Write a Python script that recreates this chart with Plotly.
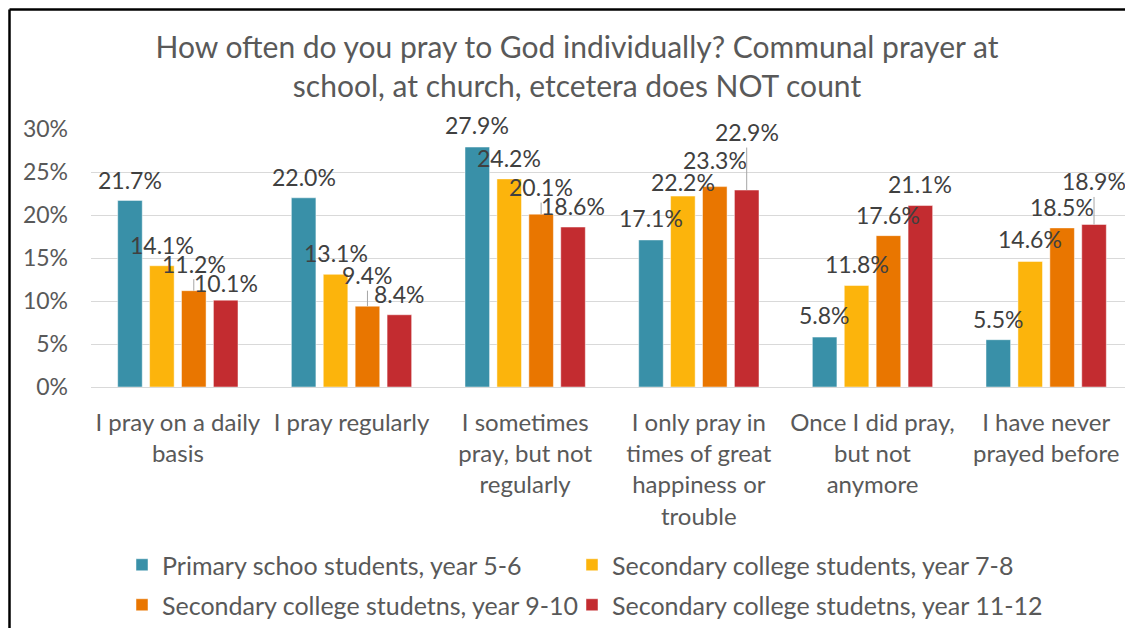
import plotly.graph_objects as go

categories = [
    "I pray on a daily basis",
    "I pray regularly",
    "I sometimes pray, but not regularly",
    "I only pray in times of great happiness or trouble",
    "Once I did pray, but not anymore",
    "I have never prayed before",
]
tick_labels = [
    "I pray on a daily<br>basis",
    "I pray regularly",
    "I sometimes<br>pray, but not<br>regularly",
    "I only pray in<br>times of great<br>happiness or<br>trouble",
    "Once I did pray,<br>but not<br>anymore",
    "I have never<br>prayed before",
]
series_names = [
    "Primary schoo students, year 5-6",
    "Secondary college students, year 7-8",
    "Secondary college studetns, year 9-10",
    "Secondary college studetns, year 11-12",
]
year_5_6 = [21.7, 22.0, 27.9, 17.1, 5.8, 5.5]
year_7_8 = [14.1, 13.1, 24.2, 22.2, 11.8, 14.6]
year_9_10 = [11.2, 9.4, 20.1, 23.3, 17.6, 18.5]
year_11_12 = [10.1, 8.4, 18.6, 22.9, 21.1, 18.9]
series_values = [year_5_6, year_7_8, year_9_10, year_11_12]
y_ticks = [0, 5, 10, 15, 20, 25, 30]
y_tick_labels = [f"{t}%" for t in y_ticks]

# styling
colors = ["#3990A8", "#FCB40C", "#E97600", "#C32C30"]
FONT = "Lato"
BARGAP = 0.265
# label offset above bar top (px) and whether a leader line is drawn
label_shift = [
    [20, 21, 22, 22, 22, 21],
    [21, 21, 21, 14, 22, 22],
    [27, 31, 27, 27, 21, 21],
    [17, 21, 21, 58, 22, 43],
]
leader = [
    [False] * 6,
    [False] * 6,
    [True, True, True, False, False, False],
    [False, False, False, True, False, True],
]
legend_ids = ["legend", "legend2", "legend3", "legend4"]
# legend entry placement in window px: (left of entry, row centre)
legend_pos = [(122, 565), (572, 565), (122, 605), (572, 605)]

# the page places the figure 8px in from the window's top-left corner
OFF = 8
W, H = 1133 - OFF, 628 - OFF
L, T = 91 - OFF, 129 - OFF
B = H - (387 - OFF)
R = 0
ph = H - T - B
pw = W - L - R


def fx(px):  # window px -> paper x
    return (px - OFF - L) / pw


def fy(py):  # window px -> paper y
    return (H - B - (py - OFF)) / ph


def cx(px):  # window px -> container x
    return (px - OFF) / W


def cy(py):  # window px -> container y
    return 1 - (py - OFF) / H


fig = go.Figure()
for name, vals, col, lg in zip(series_names, series_values, colors, legend_ids):
    fig.add_trace(go.Bar(
        x=categories, y=vals, name=name, legend=lg,
        marker=dict(color=col, line=dict(color="rgba(255,255,255,0.6)", width=0.8)),
    ))

slot = (1 - BARGAP) / len(series_values)
annotations = []
for si, vals in enumerate(series_values):
    off = (si - (len(series_values) - 1) / 2) * slot
    for ci, v in enumerate(vals):
        common = dict(
            x=ci + off, y=v, xref="x", yref="y",
            text=f"{v:.1f}%",
            font=dict(family=FONT, size=23, color="#404040"),
        )
        if leader[si][ci]:
            annotations.append(dict(
                **common, showarrow=True, ax=0, ay=-label_shift[si][ci],
                arrowhead=0, arrowwidth=1, arrowcolor="#a6a6a6", standoff=0,
            ))
        else:
            annotations.append(dict(
                **common, showarrow=False, yshift=label_shift[si][ci], yanchor="middle",
            ))

shapes = [
    dict(type="line", xref="paper", yref="paper", x0=fx(9.5), x1=fx(1300),
         y0=fy(9.5), y1=fy(9.5), line=dict(color="black", width=2.5)),
    dict(type="line", xref="paper", yref="paper", x0=fx(9.5), x1=fx(9.5),
         y0=fy(9.5), y1=fy(800), line=dict(color="black", width=2.5)),
]

legends = {}
for lg, (lx, ly) in zip(legend_ids, legend_pos):
    legends[lg] = dict(
        orientation="h", xref="container", yref="container",
        xanchor="left", yanchor="middle", x=cx(lx), y=cy(ly),
        font=dict(family=FONT, size=25, color="#595959"),
        bgcolor="rgba(0,0,0,0)",
    )

fig.update_layout(
    width=W, height=H,
    margin=dict(l=L, r=R, t=T, b=B),
    paper_bgcolor="white", plot_bgcolor="white",
    barmode="group", bargap=BARGAP, bargroupgap=0.23,
    font=dict(family=FONT, color="#595959"),
    title=dict(
        text="How often do you pray to God individually? Communal prayer at<br>school, at church, etcetera does NOT count",
        x=cx(577), xanchor="center", xref="container",
        y=cy(58), yanchor="top", yref="container",
        font=dict(family=FONT, size=30, color="#595959"),
    ),
    xaxis=dict(
        tickmode="array", tickvals=categories, ticktext=tick_labels,
        tickfont=dict(family=FONT, size=24, color="#595959"),
        showgrid=False, showline=False, ticks="",
        ticklabelstandoff=19,
    ),
    yaxis=dict(
        range=[0, 30], tickmode="array", tickvals=y_ticks, ticktext=y_tick_labels,
        tickfont=dict(family=FONT, size=23, color="#595959"),
        showgrid=True, gridcolor="#d9d9d9", gridwidth=1,
        zeroline=True, zerolinecolor="#d9d9d9", zerolinewidth=1,
        ticklabelstandoff=22,
    ),
    annotations=annotations,
    shapes=shapes,
    showlegend=True,
    **legends,
)

fig.write_html("out.html")
